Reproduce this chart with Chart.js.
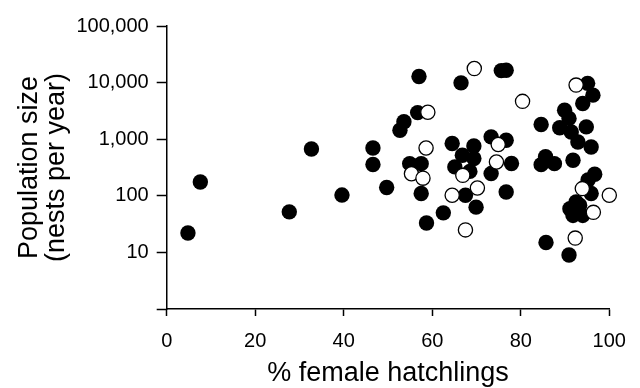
<!DOCTYPE html>
<html>
<head>
<meta charset="utf-8">
<script src="https://cdn.jsdelivr.net/npm/chart.js@4"></script>
<style>
  html, body { margin: 0; padding: 0; background: #fff; }
  #wrap { width: 640px; height: 388px; position: relative; }
</style>
</head>
<body>
<div id="wrap"><canvas id="chart"></canvas></div>
<script>
// filled circles
const filledPct = [4.8, 7.6, 27.7, 32.7, 39.6, 46.6, 46.6, 49.7, 52.7, 53.6,
    54.9, 56.7, 57.0, 57.5, 57.5, 58.7, 62.5, 64.5, 65.1, 66.5,
    66.8, 67.5, 68.5, 69.4, 69.4, 69.9, 73.3, 73.3, 75.6, 76.7,
    76.7, 77.9, 76.7, 84.6, 84.6, 85.6, 85.7, 87.6, 88.8, 89.9,
    90.9, 91.4, 91.8, 90.9, 92.9, 94.0, 94.8, 95.1, 96.3, 95.9,
    96.7, 95.2, 95.9, 91.1, 93.3, 91.8, 94.0, 92.5];
const filledNests = [22, 175, 52, 670, 103, 700, 358, 140, 1440, 2030,
    370, 2950, 12800, 370, 110, 33, 50, 840, 324, 9900,
    520, 102, 270, 760, 455, 63, 1100, 247, 16300, 16500,
    960, 372, 117, 1820, 355, 490, 15, 370, 1590, 3250,
    2330, 1340, 425, 9, 890, 4270, 1650, 9700, 6000, 730,
    240, 190, 110, 59, 68, 45, 45, 78];

// open circles
const openPct = [55.3, 57.9, 58.6, 59.0, 64.5, 66.9, 67.5, 69.5, 70.2, 74.5,
    74.9, 80.4, 92.5, 92.3, 93.9, 96.4, 100];
const openNests = [245, 205, 700, 3000, 102, 230, 25, 17700, 137, 396,
    805, 4660, 9040, 17.9, 134, 51, 102];

const yTickValues = [1, 10, 100, 1000, 10000, 100000];

const toPoints = (xs, ys) => xs.map((x, i) => ({ x: x, y: ys[i] }));

const ctx = document.getElementById('chart').getContext('2d');
new Chart(ctx, {
    type: 'scatter',
    data: {
        datasets: [{
            data: toPoints(filledPct, filledNests),
            backgroundColor: '#000',
            borderColor: '#000',
            borderWidth: 0,
            pointRadius: 7.7,
            order: 2,
            clip: false
        }, {
            data: toPoints(openPct, openNests),
            backgroundColor: '#fff',
            borderColor: '#000',
            borderWidth: 1.3,
            pointRadius: 7.1,
            order: 1,
            clip: false
        }]
    },
    options: {
        responsive: true,
        maintainAspectRatio: false,
        animation: false,
        layout: { padding: { left: 0, right: 30.7, top: 26, bottom: 0 } },
        plugins: { legend: { display: false }, tooltip: { enabled: false } },
        scales: {
            x: {
                type: 'linear',
                min: 0,
                max: 100,
                afterFit: (scale) => { scale.height = 79; },
                ticks: {
                    stepSize: 20,
                    color: '#000',
                    padding: 13,
                    font: { family: 'Liberation Sans, Arial, sans-serif', size: 20 }
                },
                grid: {
                    drawOnChartArea: false,
                    drawTicks: true,
                    tickLength: 7,
                    tickWidth: 1.5,
                    tickColor: '#000'
                },
                border: { display: true, color: '#000', width: 1.5 },
                title: {
                    display: true,
                    text: '% female hatchlings',
                    color: '#000',
                    padding: { top: 0, bottom: 1 },
                    font: { family: 'Liberation Sans, Arial, sans-serif', size: 27, lineHeight: 1 }
                }
            },
            y: {
                type: 'logarithmic',
                min: 1,
                max: 100000,
                afterFit: (scale) => { scale.width = 166.7; },
                afterBuildTicks: (scale) => {
                    scale.ticks = yTickValues.map(v => ({ value: v }));
                },
                ticks: {
                    color: '#000',
                    padding: 8,
                    autoSkip: false,
                    font: { family: 'Liberation Sans, Arial, sans-serif', size: 20 },
                    callback: (v) => v === 1 ? '' : Number(v).toLocaleString('en-US')
                },
                grid: {
                    drawOnChartArea: false,
                    drawTicks: true,
                    tickLength: 10,
                    tickWidth: 1.5,
                    tickColor: '#000'
                },
                border: { display: true, color: '#000', width: 1.5 },
                title: {
                    display: true,
                    text: ['Population size', '(nests per year)'],
                    color: '#000',
                    padding: { top: 16, bottom: 0 },
                    font: { family: 'Liberation Sans, Arial, sans-serif', size: 27, lineHeight: 1 }
                }
            }
        }
    }
});
</script>
</body>
</html>
